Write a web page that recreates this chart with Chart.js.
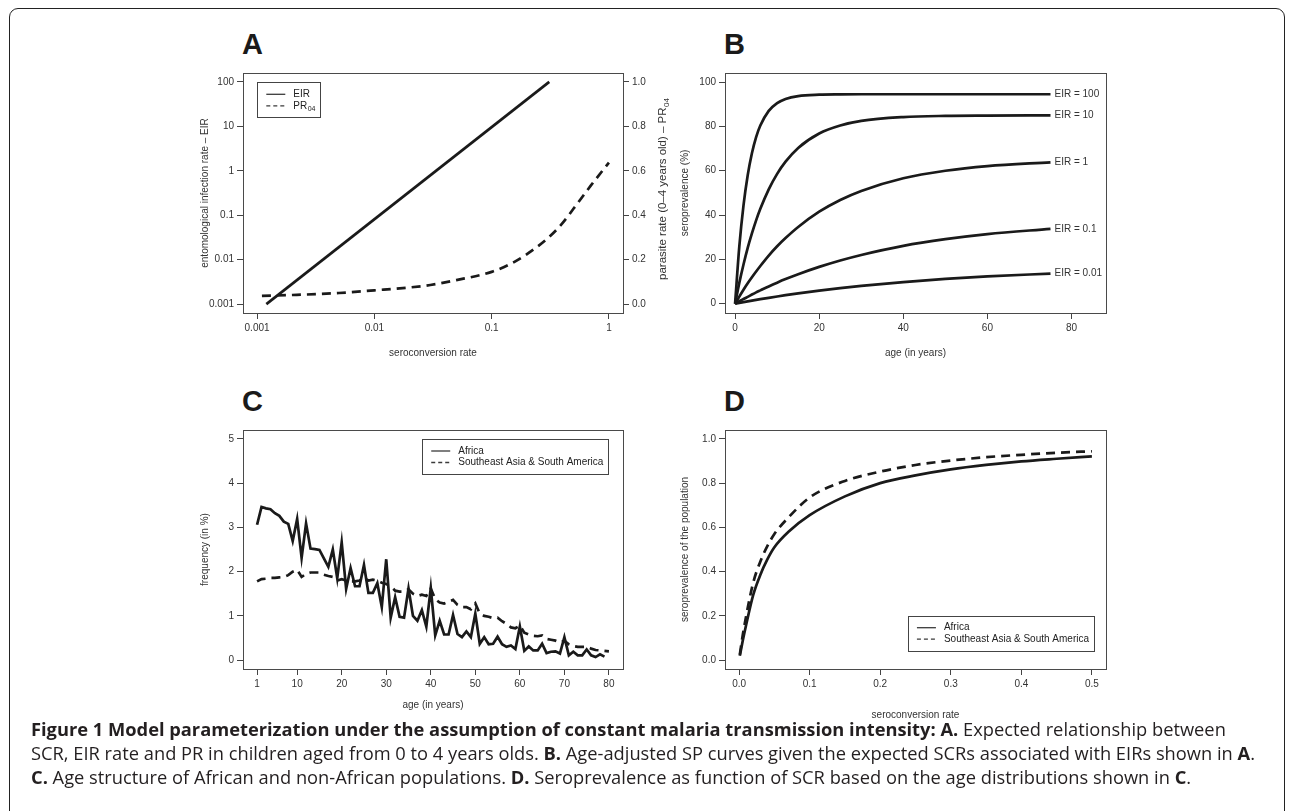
<!DOCTYPE html>
<html>
<head>
<meta charset="utf-8">
<script src="https://cdn.jsdelivr.net/npm/chart.js@4.4.0/dist/chart.umd.min.js"></script>
<style>
  body { margin: 0; background: #fff; width: 1292px; height: 811px; overflow: hidden; position: relative; }
  .frame { position: absolute; left: 9px; top: 8px; width: 1276px; height: 840px; border: 1.5px solid #222; border-radius: 9px; box-sizing: border-box; }
  canvas { position: absolute; }
  .letter { position: absolute; font: bold 29px/29px "Liberation Sans", Arial, sans-serif; color: #1a1a1a; }
  .cap { position: absolute; left: 31px; font: 18.3px/23px "Open Sans", sans-serif; color: #231f20; white-space: nowrap; }
  .cap b { font-weight: 700; }
</style>
</head>
<body>
<div class="frame"></div>
<div class="letter" style="left:242px;top:30px">A</div>
<div class="letter" style="left:724px;top:30px">B</div>
<div class="letter" style="left:242px;top:387px">C</div>
<div class="letter" style="left:724px;top:387px">D</div>
<canvas id="chartA" width="485" height="300" style="left:195px;top:64px"></canvas>
<canvas id="chartB" width="444" height="300" style="left:676px;top:64px"></canvas>
<canvas id="chartC" width="485" height="300" style="left:195px;top:421px"></canvas>
<canvas id="chartD" width="444" height="310" style="left:676px;top:421px"></canvas>
<div class="cap" style="top:717px"><b>Figure 1 Model parameterization under the assumption of constant malaria transmission intensity: A.</b> Expected relationship between</div>
<div class="cap" style="top:741px">SCR, EIR rate and PR in children aged from 0 to 4 years olds. <b>B.</b> Age-adjusted SP curves given the expected SCRs associated with EIRs shown in <b>A</b>.</div>
<div class="cap" style="top:765px"><b>C.</b> Age structure of African and non-African populations. <b>D.</b> Seroprevalence as function of SCR based on the age distributions shown in <b>C</b>.</div>

<script>
// Panel A: EIR and PR04 against seroconversion rate
const scrEIR = [0.0012, 0.31];
const eirValues = [0.001, 100];
const scrPR = [0.0011, 0.002, 0.005, 0.01, 0.02, 0.03, 0.05, 0.1, 0.15, 0.2, 0.3, 0.4, 0.5, 0.7, 1.0];
const prValues = [0.037, 0.041, 0.05, 0.062, 0.075, 0.086, 0.108, 0.145, 0.185, 0.225, 0.296, 0.363, 0.43, 0.533, 0.637];
const aXTicks = [0.001, 0.01, 0.1, 1];
const aYTicks = [0.001, 0.01, 0.1, 1, 10, 100];
const aY2Ticks = [0, 0.2, 0.4, 0.6, 0.8, 1.0];

// Panel B: seroprevalence by age for each EIR
const agesB = [0, 1, 2, 3, 4, 5, 6, 8, 10, 12, 15, 20, 25, 30, 40, 50, 60, 75];
const eirLabels = ['EIR = 100', 'EIR = 10', 'EIR = 1', 'EIR = 0.1', 'EIR = 0.01'];
const sp100 = [0, 25.7, 44.4, 58.0, 67.9, 75.2, 80.4, 87.0, 90.5, 92.4, 93.7, 94.3, 94.45, 94.5, 94.5, 94.5, 94.5, 94.5];
const sp10 = [0, 9.4, 17.7, 25.2, 31.7, 37.6, 42.8, 51.6, 58.6, 64.1, 70.3, 76.8, 80.4, 82.5, 84.2, 84.75, 84.9, 85.0];
const sp1 = [0, 3.2, 6.3, 9.2, 11.9, 14.5, 17.0, 21.7, 25.9, 29.6, 34.6, 41.5, 46.8, 50.9, 56.6, 60.0, 62.1, 63.8];
const sp01 = [0, 1.08, 2.1, 3.1, 4.12, 5.1, 6.0, 7.8, 9.5, 11.1, 13.3, 16.6, 19.5, 22.0, 26.1, 29.1, 31.4, 33.8];
const sp001 = [0, 0.36, 0.71, 1.05, 1.38, 1.71, 2.03, 2.65, 3.25, 3.83, 4.64, 5.9, 7.0, 8.0, 9.75, 11.2, 12.3, 13.6];
const bXTicks = [0, 20, 40, 60, 80];
const bYTicks = [0, 20, 40, 60, 80, 100];

// Panel C: age structure (frequency in %)
const agesC = [1, 2, 3, 4, 5, 6, 7, 8, 9, 10, 11, 12, 13, 14, 15, 16, 17, 18, 19, 20,
  21, 22, 23, 24, 25, 26, 27, 28, 29, 30, 31, 32, 33, 34, 35, 36, 37, 38, 39, 40,
  41, 42, 43, 44, 45, 46, 47, 48, 49, 50, 51, 52, 53, 54, 55, 56, 57, 58, 59, 60,
  61, 62, 63, 64, 65, 66, 67, 68, 69, 70, 71, 72, 73, 74, 75, 76, 77, 78, 79, 80];
const africaFreq = [3.06, 3.46, 3.43, 3.41, 3.32, 3.26, 3.13, 3.08, 2.69, 3.19,
  2.31, 3.09, 2.52, 2.51, 2.49, 2.30, 2.11, 2.50, 1.85, 2.66,
  1.61, 2.08, 1.67, 1.67, 2.15, 1.52, 1.52, 1.74, 1.20, 2.28,
  0.96, 1.42, 0.98, 0.96, 1.62, 1.00, 0.89, 1.13, 0.76, 1.63,
  0.56, 0.89, 0.58, 0.58, 1.02, 0.59, 0.52, 0.65, 0.52, 1.05,
  0.37, 0.52, 0.36, 0.37, 0.53, 0.36, 0.30, 0.33, 0.25, 0.76,
  0.21, 0.31, 0.22, 0.22, 0.37, 0.16, 0.19, 0.20, 0.15, 0.52,
  0.11, 0.19, 0.11, 0.11, 0.24, 0.11, 0.07, 0.13, 0.08];
const seaFreq = [1.78, 1.83, 1.84, 1.86, 1.86, 1.87, 1.88, 1.92, 2.0, 2.04,
  1.88, 1.95, 1.98, 1.98, 1.98, 1.93, 1.90, 1.88, 1.80, 1.83,
  1.80, 1.78, 1.78, 1.80, 1.85, 1.80, 1.82, 1.80, 1.75, 1.72,
  1.67, 1.57, 1.55, 1.55, 1.60, 1.50, 1.45, 1.48, 1.45, 1.62,
  1.38, 1.30, 1.28, 1.32, 1.36, 1.25, 1.20, 1.20, 1.15, 1.28,
  1.05, 1.00, 0.98, 0.95, 0.96, 0.88, 0.82, 0.74, 0.72, 0.78,
  0.62, 0.58, 0.55, 0.54, 0.56, 0.48, 0.46, 0.44, 0.40, 0.44,
  0.36, 0.32, 0.30, 0.30, 0.30, 0.26, 0.23, 0.22, 0.21, 0.20];
const cXTicks = [1, 10, 20, 30, 40, 50, 60, 70, 80];
const cYTicks = [0, 1, 2, 3, 4, 5];

// Panel D: population seroprevalence against SCR
const scrD = [0.001, 0.005, 0.01, 0.02, 0.03, 0.04, 0.05, 0.07, 0.1, 0.15, 0.2, 0.25, 0.3, 0.35, 0.4, 0.45, 0.5];
const africaSP = [0.02, 0.085, 0.16, 0.295, 0.385, 0.455, 0.51, 0.58, 0.655, 0.74, 0.80, 0.835, 0.862, 0.882, 0.898, 0.91, 0.921];
const seaSP = [0.025, 0.11, 0.2, 0.35, 0.445, 0.515, 0.57, 0.645, 0.735, 0.81, 0.852, 0.882, 0.902, 0.917, 0.928, 0.937, 0.944];
const dXTicks = [0, 0.1, 0.2, 0.3, 0.4, 0.5];
const dYTicks = [0, 0.2, 0.4, 0.6, 0.8, 1.0];

const FONT = '"Liberation Sans", Arial, Helvetica, sans-serif';
const INK = '#1a1a1a';
Chart.defaults.font.family = FONT;

const pts = (xs, ys) => ys.map((y, i) => ({ x: xs[i], y: y }));
const fixed1 = v => Number(v).toFixed(1);

// R-like axis: outward ticks, no axis line, fixed width so plot boxes line up
function rAxis(o) {
  return {
    type: o.type || 'linear',
    position: o.position,
    bounds: 'data',
    min: o.min,
    max: o.max,
    afterBuildTicks: s => { s.ticks = o.ticks.map(v => ({ value: v })); },
    afterFit: s => {
      if (o.position === 'bottom') s.height = o.size; else s.width = o.size;
    },
    ticks: {
      callback: o.fmt || (v => String(v)),
      color: '#333', font: { size: 10 }, padding: 3,
      maxRotation: 0, autoSkip: false
    },
    grid: { display: true, drawOnChartArea: false, drawTicks: true, tickLength: 6, color: '#444', lineWidth: 1 },
    border: { display: false },
    title: {
      display: !!o.title, text: o.title || '', color: '#333',
      font: { size: o.titleSize || 10 },
      padding: { top: o.titlePad, bottom: o.titlePad }
    }
  };
}

// text with an optional subscript part, starting at x
function subText(ctx, main, sub, x, y, size) {
  ctx.font = size + 'px ' + FONT;
  ctx.fillText(main, x, y);
  const w = ctx.measureText(main).width;
  if (sub) {
    ctx.font = Math.round(size * 0.7) + 'px ' + FONT;
    ctx.fillText(sub, x + w + 0.5, y + size * 0.3);
    ctx.font = size + 'px ' + FONT;
  }
}

function subWidth(ctx, main, sub, size) {
  ctx.font = size + 'px ' + FONT;
  let w = ctx.measureText(main).width;
  if (sub) {
    ctx.font = Math.round(size * 0.7) + 'px ' + FONT;
    w += ctx.measureText(sub).width + 0.5;
    ctx.font = size + 'px ' + FONT;
  }
  return w;
}

function drawLegend(chart, lg) {
  const { ctx, chartArea: a } = chart;
  const sets = chart.data.datasets;
  const w = 36 + Math.max(...sets.map(ds => subWidth(ctx, ds.label, ds.labelSub, 10))) + 5;
  const h = 12 + sets.length * 11.5;
  const x0 = lg.corner.includes('left') ? a.left + lg.dx : a.right - lg.dx - w;
  const y0 = lg.corner.includes('top') ? a.top + lg.dy : a.bottom - lg.dy - h;
  ctx.strokeStyle = '#444';
  ctx.lineWidth = 1;
  ctx.strokeRect(Math.round(x0) + 0.5, Math.round(y0) + 0.5, Math.round(w), Math.round(h));
  sets.forEach((ds, i) => {
    const y = y0 + 12 + i * 11.5;
    ctx.setLineDash(ds.borderDash ? [4, 3] : []);
    ctx.strokeStyle = '#3a3a3a';
    ctx.lineWidth = 1.3;
    ctx.beginPath();
    ctx.moveTo(x0 + 9, y);
    ctx.lineTo(x0 + 28, y);
    ctx.stroke();
    ctx.setLineDash([]);
    ctx.fillStyle = '#222';
    ctx.textAlign = 'left';
    ctx.textBaseline = 'middle';
    subText(ctx, ds.label, ds.labelSub, x0 + 36, y, 10);
  });
}

// draws the plot box, legend, line-end labels and a bottom-to-top right title
const rFrame = {
  id: 'rFrame',
  afterDraw(chart, args, opts) {
    const { ctx, chartArea: a } = chart;
    ctx.save();
    ctx.strokeStyle = '#4a4a4a';
    ctx.lineWidth = 1;
    ctx.strokeRect(Math.round(a.left) + 0.5, Math.round(a.top) + 0.5, Math.round(a.right - a.left), Math.round(a.bottom - a.top));
    if (opts.endLabels) {
      ctx.font = '10px ' + FONT;
      ctx.fillStyle = '#333';
      ctx.textAlign = 'left';
      ctx.textBaseline = 'middle';
      chart.data.datasets.forEach((ds, i) => {
        const pt = chart.getDatasetMeta(i).data.at(-1);
        ctx.fillText(ds.label, pt.x + 4, pt.y);
      });
    }
    if (opts.rightTitle) {
      const t = opts.rightTitle;
      const w = subWidth(ctx, t.text, t.sub, t.size);
      ctx.translate(a.right + t.offset, (a.top + a.bottom) / 2 + t.shift);
      ctx.rotate(-Math.PI / 2);
      ctx.fillStyle = '#333';
      ctx.textAlign = 'left';
      ctx.textBaseline = 'middle';
      subText(ctx, t.text, t.sub, -w / 2, 0, t.size);
      ctx.setTransform(1, 0, 0, 1, 0, 0);
    }
    if (opts.legend) drawLegend(chart, opts.legend);
    ctx.restore();
  }
};

const solid = { borderColor: INK, borderWidth: 2.7, pointRadius: 0, fill: false, borderCapStyle: 'butt' };
const dashed = { ...solid, borderDash: [9, 6] };
const common = {
  responsive: false,
  animation: false,
  events: [],
  plugins: { legend: { display: false }, tooltip: { enabled: false } }
};

new Chart(document.getElementById('chartA'), {
  type: 'line',
  data: {
    datasets: [
      { label: 'EIR', data: pts(scrEIR, eirValues), yAxisID: 'y', ...solid },
      { label: 'PR', labelSub: '04', data: pts(scrPR, prValues), yAxisID: 'y2', ...dashed, cubicInterpolationMode: 'monotone' }
    ]
  },
  options: {
    ...common,
    layout: { padding: { top: 5, left: 0, right: 0, bottom: 0 } },
    scales: {
      x: rAxis({ type: 'logarithmic', position: 'bottom', min: Math.pow(10, -3.12), max: Math.pow(10, 0.12), ticks: aXTicks, size: 51, title: 'seroconversion rate', titlePad: 5 }),
      y: rAxis({ type: 'logarithmic', position: 'left', min: Math.pow(10, -3.2), max: Math.pow(10, 2.2), ticks: aYTicks, size: 48, title: 'entomological infection rate \u2013 EIR', titlePad: 4 }),
      y2: rAxis({ position: 'right', min: -0.04, max: 1.04, ticks: aY2Ticks, fmt: fixed1, size: 57 })
    },
    plugins: {
      ...common.plugins,
      rFrame: {
        legend: { corner: 'topleft', dx: 14.3, dy: 9.3 },
        rightTitle: { text: 'parasite rate (0\u20134 years old) \u2013 PR', sub: '04', size: 11.5, offset: 40, shift: -4 }
      }
    }
  },
  plugins: [rFrame]
});

new Chart(document.getElementById('chartB'), {
  type: 'line',
  data: {
    datasets: [sp100, sp10, sp1, sp01, sp001].map((vals, i) => ({
      label: eirLabels[i], data: pts(agesB, vals), ...solid, cubicInterpolationMode: 'monotone'
    }))
  },
  options: {
    ...common,
    layout: { padding: { top: 5, left: 0, right: 14, bottom: 0 } },
    scales: {
      x: rAxis({ position: 'bottom', min: -2.4, max: 88.2, ticks: bXTicks, size: 51, title: 'age (in years)', titlePad: 5 }),
      y: rAxis({ position: 'left', min: -4.2, max: 104.1, ticks: bYTicks, size: 49, title: 'seroprevalence (%)', titlePad: 3 })
    },
    plugins: { ...common.plugins, rFrame: { endLabels: true } }
  },
  plugins: [rFrame]
});

new Chart(document.getElementById('chartC'), {
  type: 'line',
  data: {
    datasets: [
      { label: 'Africa', data: pts(agesC, africaFreq), ...solid, borderJoinStyle: 'miter' },
      { label: 'Southeast Asia & South America', data: pts(agesC, seaFreq), ...dashed }
    ]
  },
  options: {
    ...common,
    layout: { padding: { top: 5, left: 0, right: 57, bottom: 0 } },
    scales: {
      x: rAxis({ position: 'bottom', min: -2.16, max: 83.16, ticks: cXTicks, size: 52, title: 'age (in years)', titlePad: 10 }),
      y: rAxis({ position: 'left', min: -0.2, max: 5.2, ticks: cYTicks, size: 48, title: 'frequency (in %)', titlePad: 4 })
    },
    plugins: { ...common.plugins, rFrame: { legend: { corner: 'topright', dx: 14.7, dy: 9 } } }
  },
  plugins: [rFrame]
});

new Chart(document.getElementById('chartD'), {
  type: 'line',
  data: {
    datasets: [
      { label: 'Africa', data: pts(scrD, africaSP), ...solid, cubicInterpolationMode: 'monotone' },
      { label: 'Southeast Asia & South America', data: pts(scrD, seaSP), ...dashed, cubicInterpolationMode: 'monotone' }
    ]
  },
  options: {
    ...common,
    layout: { padding: { top: 5, left: 0, right: 14, bottom: 0 } },
    scales: {
      x: rAxis({ position: 'bottom', min: -0.02, max: 0.52, ticks: dXTicks, fmt: fixed1, size: 62, title: 'seroconversion rate', titlePad: 10 }),
      y: rAxis({ position: 'left', min: -0.04, max: 1.04, ticks: dYTicks, fmt: fixed1, size: 49, title: 'seroprevalence of the population', titlePad: 3 })
    },
    plugins: { ...common.plugins, rFrame: { legend: { corner: 'bottomright', dx: 12, dy: 18.3 } } }
  },
  plugins: [rFrame]
});
</script>
</body>
</html>
